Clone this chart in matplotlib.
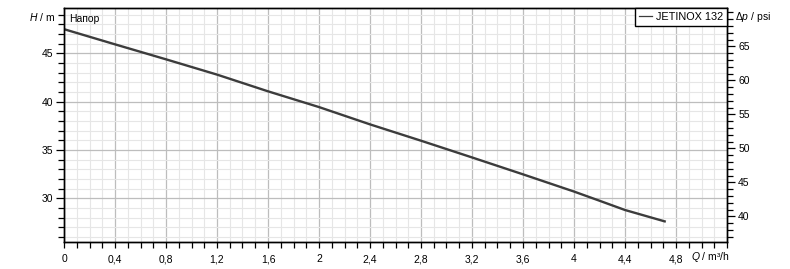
import matplotlib
matplotlib.use("Agg")
import matplotlib.pyplot as plt
from matplotlib.ticker import MultipleLocator, FixedLocator, FuncFormatter
from matplotlib.lines import Line2D

# Data
q_values = [0.0, 0.4, 0.8, 1.2, 1.6, 2.0, 2.4, 2.8, 3.2, 3.6, 4.0, 4.2, 4.4, 4.72]
h_values = [47.5, 45.93, 44.38, 42.80, 41.07, 39.44, 37.65, 35.96, 34.23, 32.48, 30.70, 29.75, 28.79, 27.58]
x_ticks = [0, 0.4, 0.8, 1.2, 1.6, 2.0, 2.4, 2.8, 3.2, 3.6, 4.0, 4.4, 4.8]
y_ticks = [30, 35, 40, 45]
psi_ticks = [40, 45, 50, 55, 60, 65]
series_name = "JETINOX 132"
PSI_PER_M = 1.4219

plt.rcParams['font.family'] = ['Liberation Sans', 'DejaVu Sans']
plt.rcParams['mathtext.fontset'] = 'custom'
plt.rcParams['mathtext.it'] = 'Liberation Sans:italic'
plt.rcParams['mathtext.rm'] = 'Liberation Sans'

W, H = 790, 269
fig = plt.figure(figsize=(W / 100, H / 100), dpi=100)
L, R, T, B = 64, 727, 8, 242
ax = fig.add_axes([L / W, 1 - B / H, (R - L) / W, (B - T) / H])

ax.set_xlim(0, 5.2)
ax.set_ylim(25.48, 49.69)

ax.plot(q_values, h_values, color='#3c3c3c', lw=1.7, solid_capstyle='butt')

ax.xaxis.set_major_locator(FixedLocator(x_ticks))
ax.xaxis.set_minor_locator(MultipleLocator(0.1))
ax.yaxis.set_major_locator(FixedLocator(y_ticks))
ax.yaxis.set_minor_locator(MultipleLocator(1))

def fmt(v, pos):
    s = ('%.1f' % v).rstrip('0').rstrip('.')
    return s.replace('.', ',')

ax.xaxis.set_major_formatter(FuncFormatter(fmt))
ax.yaxis.set_major_formatter(FuncFormatter(fmt))

ax.grid(which='minor', color='#e6e6e6', lw=0.8)
ax.grid(which='major', color='#bdbdbd', lw=0.9)
ax.set_axisbelow(True)

for s in ax.spines.values():
    s.set_color('black')
    s.set_linewidth(1.0)

ax.tick_params(axis='y', which='major', length=6, width=0.9, labelsize=7.5, pad=2, direction='out')
ax.tick_params(axis='y', which='minor', length=4, width=0.9, direction='out')
ax.tick_params(axis='x', which='both', length=4, width=0.9, labelsize=7.5, pad=5, direction='out')

# right psi axis
ax2 = ax.twinx()
ax2.set_ylim(25.48 * PSI_PER_M, 49.69 * PSI_PER_M)
ax2.yaxis.set_major_locator(FixedLocator(psi_ticks))
ax2.yaxis.set_minor_locator(MultipleLocator(1))
ax2.yaxis.set_major_formatter(FuncFormatter(fmt))
ax2.tick_params(axis='y', which='major', length=6, width=0.9, labelsize=7.5, pad=2, direction='out')
ax2.tick_params(axis='y', which='minor', length=4, width=0.9, direction='out')
for s in ax2.spines.values():
    s.set_color('black')
    s.set_linewidth(1.0)

# axis captions
fig.text(55 / W, 1 - 17 / H, r'$H$ / m', ha='right', va='center', fontsize=7.5)
fig.text(735 / W, 1 - 17 / H, r'$\Delta p$ / psi', ha='left', va='center', fontsize=7.5)
fig.text(710 / W, 1 - 257 / H, r'$Q$ / m³/h', ha='center', va='center', fontsize=7.5)
ax.text(69 / W, 1 - 19 / H, 'Напор', transform=fig.transFigure, ha='left', va='center', fontsize=7.5)

handle = Line2D([], [], color='#3c3c3c', lw=0.9)
leg = ax2.legend([handle], [series_name], loc='upper right', fontsize=7.8,
                 borderaxespad=0, fancybox=False, framealpha=1, edgecolor='black',
                 handlelength=1.2, handletextpad=0.4, borderpad=0.35)
leg.get_frame().set_linewidth(1.0)

fig.savefig('out.png', dpi=100)
